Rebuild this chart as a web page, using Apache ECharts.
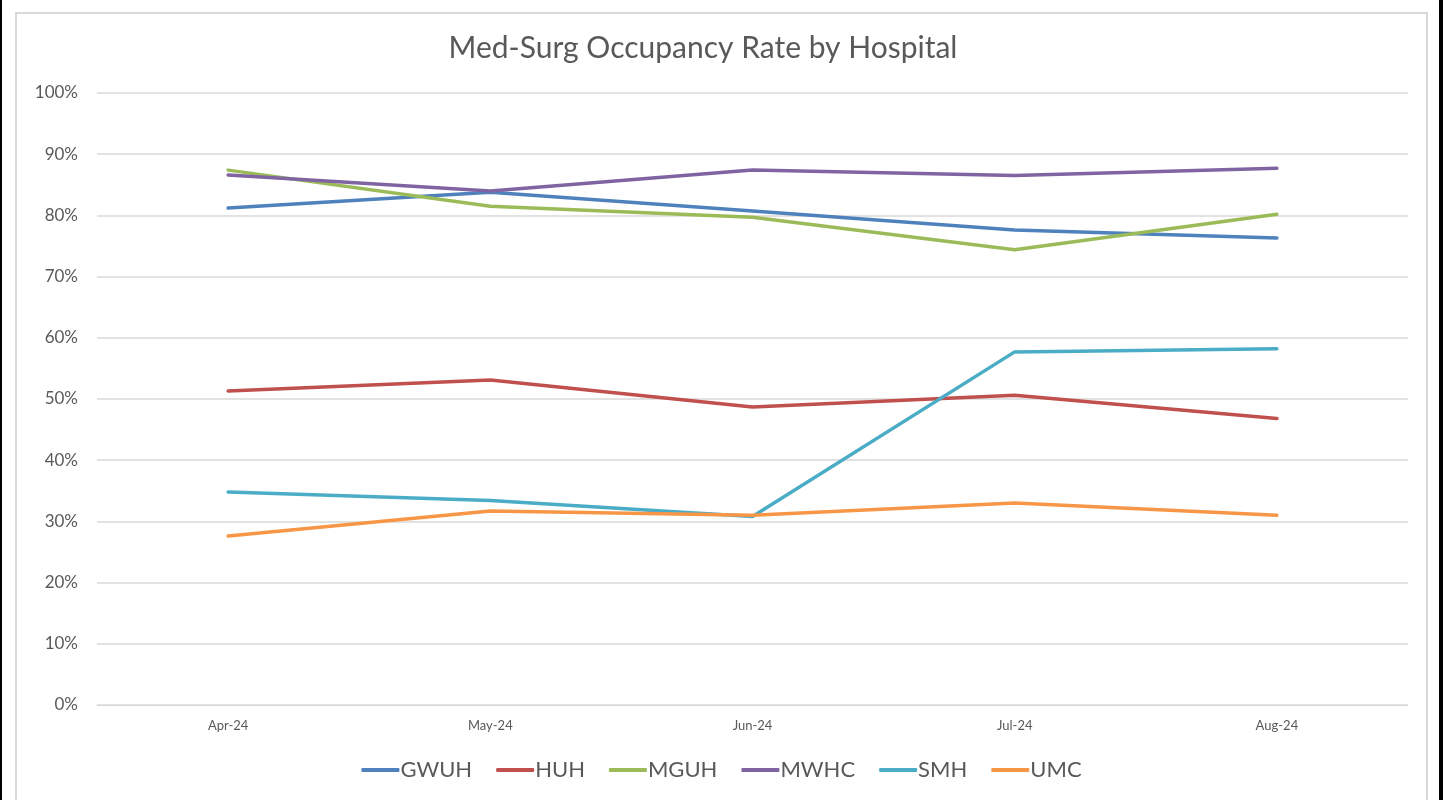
<!DOCTYPE html>
<html><head><meta charset="utf-8">
<script src="https://cdn.jsdelivr.net/npm/echarts@6/dist/echarts.min.js"></script>
<style>
html,body{margin:0;padding:0;background:#fff;width:1443px;height:800px;overflow:hidden;}
#chart{position:absolute;left:0;top:0;width:1443px;height:800px;}
#frame{position:absolute;left:15px;top:12px;width:1413px;height:800px;border:2px solid #d9d9d9;border-bottom:none;box-sizing:border-box;pointer-events:none;}
#bl{position:absolute;left:0;top:0;width:2px;height:800px;background:#000;}
#br{position:absolute;left:1439px;top:0;width:4px;height:800px;background:#000;}
</style></head>
<body>
<div id="frame"></div><div id="bl"></div><div id="br"></div>
<div id="chart"></div>
<script>
const categories = ['Apr-24','May-24','Jun-24','Jul-24','Aug-24'];
const GWUH = [81.2, 83.8, 80.7, 77.6, 76.3];
const HUH  = [51.3, 53.1, 48.7, 50.6, 46.8];
const MGUH = [87.4, 81.5, 79.7, 74.4, 80.2];
const MWHC = [86.6, 84.0, 87.4, 86.5, 87.7];
const SMH  = [34.8, 33.4, 30.8, 57.7, 58.2];
const UMC  = [27.6, 31.7, 31.0, 33.0, 31.0];
const seriesNames = ['GWUH','HUH','MGUH','MWHC','SMH','UMC'];
const seriesData = [GWUH, HUH, MGUH, MWHC, SMH, UMC];
const colors = ['#4F81BD','#C0504D','#9BBB59','#8064A2','#4BACC6','#F79646'];

const chart = echarts.init(document.getElementById('chart'));
chart.setOption({
  animation:false,
  color: colors,
  title:{text:'Med-Surg Occupancy Rate by Hospital',left:698,textAlign:'center',top:28,
    textStyle:{fontFamily:'Lato',fontSize:30,fontWeight:'normal',color:'#595959'}},
  legend:{bottom:14,left:'center',itemWidth:38,itemHeight:4,itemGap:24,icon:'roundRect',
    textStyle:{fontFamily:'Lato',fontSize:22,color:'#595959',padding:[0,0,0,-4]},
    data:seriesNames},
  grid:{left:97,right:35,top:93,bottom:95,containLabel:false},
  xAxis:{type:'category',data:categories,boundaryGap:true,
    axisLine:{lineStyle:{color:'#d9d9d9',width:1}},axisTick:{show:false},
    axisLabel:{fontFamily:'Lato',fontSize:13,color:'#595959',margin:14}},
  yAxis:{type:'value',min:0,max:100,interval:10,
    axisLine:{show:false},axisTick:{show:false},
    splitLine:{lineStyle:{color:'#d9d9d9',width:1.5}},
    axisLabel:{formatter:'{value}%',fontFamily:'Lato',fontSize:17,color:'#595959',margin:19}},
  series: seriesNames.map((n,i)=>({name:n,type:'line',data:seriesData[i],symbol:'none',
    lineStyle:{width:3.5,color:colors[i],cap:'round'}}))
});
</script>
</body></html>
